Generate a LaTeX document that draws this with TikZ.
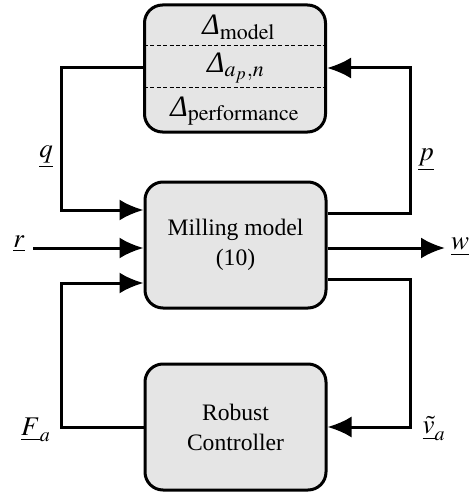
\documentclass[tikz,border=0pt]{standalone}
\usepackage{mathptmx}
\usepackage{fontspec}
\setmainfont{Liberation Serif}
\usetikzlibrary{arrows.meta,calc}
% slanted capital Delta taken from the text font
\newcommand{\uDelta}{\hbox{\itshape Δ}}

\begin{document}
\begin{tikzpicture}[x=0.5pt,y=-0.5pt,
  block/.style={draw, line width=1.5pt, fill=black!10, rounded corners=9pt,
    minimum width=90.5pt, minimum height=63pt, inner sep=0pt, align=center,
    font=\fontsize{11.8}{15}\selectfont},
  wire/.style={line width=1.5pt},
  arr/.style={wire, -{Latex[length=12pt,width=10.5pt]}},
  sep/.style={dashed, line width=0.5pt, dash pattern=on 2pt off 1.2pt},
  dlbl/.style={inner sep=0pt, font=\fontsize{14.8}{17}\selectfont},
  lbl/.style={inner sep=0pt, font=\fontsize{13.5}{16}\selectfont}]
  \useasboundingbox (0,0) rectangle (469,492);

  % blocks
  \node[block, minimum height=63.5pt] (unc) at (235,68.5) {};
  \node[block] (plant) at (235.5,245) {Milling model\\(10)};
  \node[block] (ctrl) at (235.5,427) {Robust\\Controller};

  % uncertainty partitions
  \draw[sep] ($(unc.north west)+(1,42)$) -- ($(unc.north east)+(-1,42)$);
  \draw[sep] ($(unc.north west)+(1,84)$) -- ($(unc.north east)+(-1,84)$);
  \node[dlbl] (d1) at (239,27) {$\uDelta_{\mathrm{model}}$};
  \node[dlbl] (d2) at (236,68) {$\uDelta_{a_p,n}$};
  \node[dlbl] (d3) at (235,111) {$\uDelta_{\mathrm{performance}}$};

  % loop corners and free ends
  \coordinate (qa) at (61,68);   \coordinate (qb) at (61,210);
  \coordinate (pa) at (410,213); \coordinate (pb) at (410,68);
  \coordinate (fa) at (61,427);  \coordinate (fb) at (61,283);
  \coordinate (va) at (410,279); \coordinate (vb) at (410,427);
  \coordinate (rin) at (33,248); \coordinate (wout) at (445,248);

  % uncertainty loop
  \draw[arr] (unc.west |- qa) -- (qa) -- (qb) -- (plant.west |- qb);
  \draw[arr] (plant.east |- pa) -- (pa) -- (pb) -- (unc.east |- pb);
  % exogenous input / output
  \draw[arr] (rin) -- (plant.west |- rin);
  \draw[arr] (plant.east |- wout) -- (wout);
  % control loop
  \draw[arr] (ctrl.west |- fa) -- (fa) -- (fb) -- (plant.west |- fb);
  \draw[arr] (plant.east |- va) -- (va) -- (vb) -- (ctrl.east |- vb);

  % signal labels
  \node[lbl] (lq) at (46,157) {$\underline{q}$};
  \node[lbl] (lp) at (426,160) {$\underline{p}$};
  \node[lbl] (lr) at (19,244) {$\underline{r}$};
  \node[lbl] (lw) at (460,247) {$\underline{w}$};
  \node[lbl] (lf) at (36,430) {$\underline{F}_a$};
  \node[lbl] (lv) at (434,429) {$\underline{\tilde{v}}_a$};
\end{tikzpicture}
\end{document}
